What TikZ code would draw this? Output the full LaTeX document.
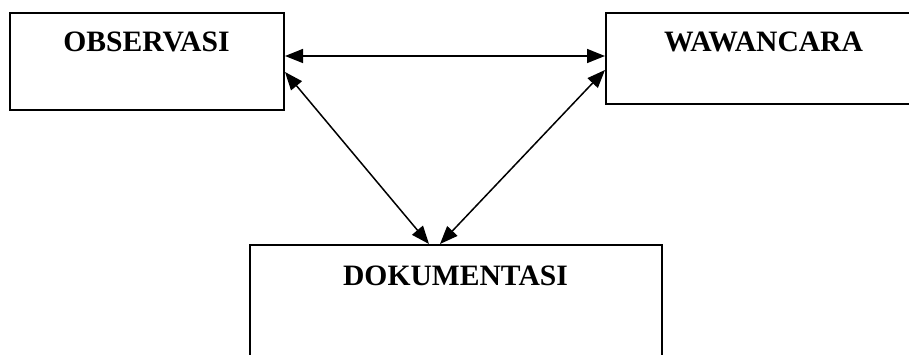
\documentclass[tikz,border=0pt]{standalone}
\usepackage{fontspec}
\setmainfont{Liberation Serif}
\usetikzlibrary{arrows.meta}
\begin{document}
\begin{tikzpicture}[x=1pt,y=1pt,
  boxnode/.style={draw, line width=2pt, rectangle, inner sep=0pt},
  lbl/.style={anchor=base, font=\fontsize{29.6}{31}\selectfont\bfseries, inner sep=0pt},
  conn/.style={line width=1.5pt, {Triangle[length=18pt,width=14pt]}-{Triangle[length=18pt,width=14pt]}}]
\useasboundingbox (0,0) rectangle (909,354);
\clip (0,0) rectangle (909,354);
\fill[white] (0,0) rectangle (909,354);
\node[boxnode, minimum width=274pt, minimum height=97pt] (obs) at (147,292.5) {};
\node[boxnode, minimum width=324pt, minimum height=91pt] (waw) at (768,295.5) {};
\node[boxnode, minimum width=412pt, minimum height=125pt] (dok) at (456,46.5) {};
\node[lbl] (obst) at (146.5,302) {OBSERVASI};
\node[lbl] (wawt) at (763.5,302) {WAWANCARA};
\node[lbl] (dokt) at (455.5,69) {DOKUMENTASI};
\draw[conn] ([yshift=5.5pt]obs.east) -- ([yshift=2.5pt]waw.west);
\draw[conn] ([yshift=-10.5pt]obs.east) -- ([xshift=-27pt]dok.north);
\draw[conn] ([yshift=-11.5pt]waw.west) -- ([xshift=-16pt]dok.north);
\end{tikzpicture}
\end{document}
